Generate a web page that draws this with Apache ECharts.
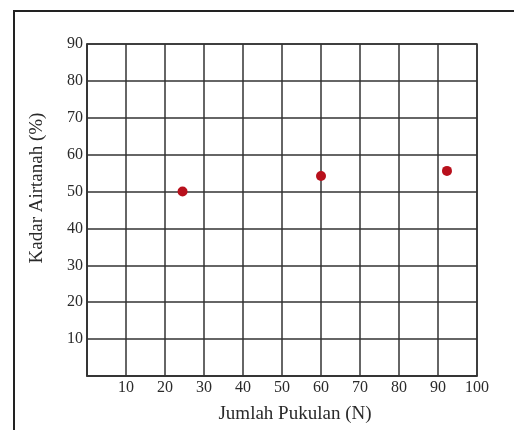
<!DOCTYPE html>
<html>
<head>
<meta charset="utf-8">
<script src="https://cdn.jsdelivr.net/npm/echarts@6/dist/echarts.min.js"></script>
<style>
html,body{margin:0;padding:0;background:#fff;}
#chart{width:514px;height:430px;}
</style>
</head>
<body>
<div id="chart"></div>
<script>
const jumlahPukulan = [24.5, 60, 92.3];
const kadarAirtanah = [50, 54.2, 55.6];
const xTicks = [0, 10, 20, 30, 40, 50, 60, 70, 80, 90, 100];
const yTicks = [0, 10, 20, 30, 40, 50, 60, 70, 80, 90];
const xTitle = 'Jumlah Pukulan (N)';
const yTitle = 'Kadar Airtanah (%)';

const points = jumlahPukulan.map((x, i) => [x, kadarAirtanah[i]]);
const chart = echarts.init(document.getElementById('chart'));
const lineColor = '#333333';
const font = 'Liberation Serif, Times New Roman, serif';
chart.setOption({
  backgroundColor: '#ffffff',
  animation: false,
  grid: { left: 87, right: 37, top: 44, bottom: 54, show: true, borderColor: lineColor, borderWidth: 1.5, backgroundColor: 'transparent' },
  xAxis: {
    type: 'value', min: xTicks[0], max: xTicks[xTicks.length - 1], interval: 10,
    axisLine: { show: true, lineStyle: { color: lineColor, width: 1.5 } },
    axisTick: { show: false },
    splitLine: { show: true, lineStyle: { color: lineColor, width: 1.5 } },
    axisLabel: { color: '#2a2a2a', fontFamily: font, fontSize: 16, margin: 4, formatter: v => v === 0 ? '' : String(v) }
  },
  yAxis: {
    type: 'value', min: yTicks[0], max: yTicks[yTicks.length - 1], interval: 10,
    axisLine: { show: true, lineStyle: { color: lineColor, width: 1.5 } },
    axisTick: { show: false },
    splitLine: { show: true, lineStyle: { color: lineColor, width: 1.5 } },
    axisLabel: { color: '#2a2a2a', fontFamily: font, fontSize: 16, margin: 4, formatter: v => v === 0 ? '' : String(v) }
  },
  series: [{
    type: 'scatter', data: points, symbol: 'circle', symbolSize: 10,
    itemStyle: { color: '#b8101c', opacity: 1 }
  }],
  graphic: [
    { type: 'rect', shape: { x: 14, y: 11, width: 600, height: 500 }, style: { fill: 'none', stroke: '#222', lineWidth: 2 }, z: 100 },
    { type: 'text', x: 295, y: 414, style: { text: xTitle, font: '19px ' + font, fill: '#2a2a2a', textAlign: 'center', textVerticalAlign: 'middle' } },
    { type: 'text', x: 37, y: 188, rotation: Math.PI / 2, style: { text: yTitle, font: '19px ' + font, fill: '#2a2a2a', textAlign: 'center', textVerticalAlign: 'middle' } }
  ]
});
</script>
</body>
</html>
